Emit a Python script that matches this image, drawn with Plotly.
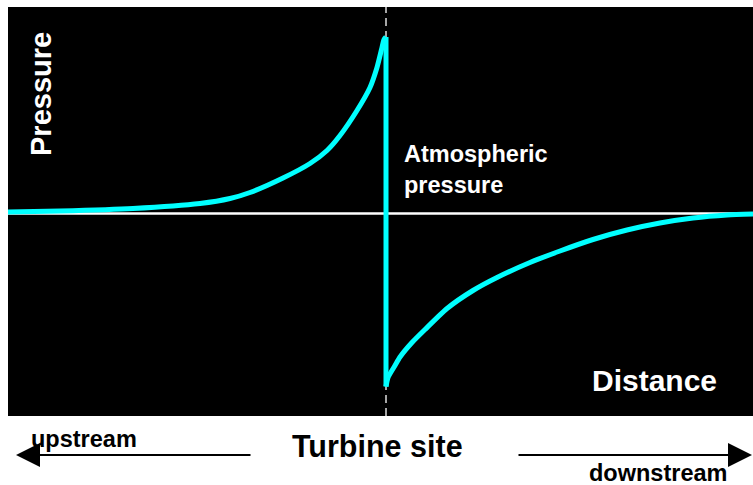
import plotly.graph_objects as go

# Distance (turbine site at 0) and pressure relative to atmospheric (arbitrary units)
upstream_x = [-3.78, -3.26, -2.53, -1.86, -1.56, -1.36, -1.03, -0.76, -0.59, -0.46, -0.29, -0.16, -0.09, -0.04, -0.02, 0.0]
upstream_p = [0.015, 0.025, 0.05, 0.10, 0.15, 0.21, 0.355, 0.50, 0.63, 0.78, 1.03, 1.26, 1.46, 1.66, 1.74, 1.765]
downstream_x = [0.0, 0.02, 0.09, 0.14, 0.26, 0.39, 0.61, 0.87, 1.11, 1.44, 1.74, 2.07, 2.41, 2.74, 3.07, 3.41, 3.67]
downstream_p = [-1.73, -1.64, -1.52, -1.435, -1.29, -1.16, -0.95, -0.77, -0.64, -0.49, -0.375, -0.26, -0.165, -0.095, -0.045, -0.015, -0.005]

FONT = "Liberation Sans, Arial, sans-serif"
CYAN = "#00FFFF"

fig = go.Figure()
# rising pressure upstream
fig.add_trace(go.Scatter(x=upstream_x, y=upstream_p, mode="lines",
                         line=dict(color=CYAN, width=5, shape="spline", smoothing=0.6),
                         hoverinfo="skip", showlegend=False))
# sudden drop across the turbine
fig.add_trace(go.Scatter(x=[upstream_x[-1], downstream_x[0]], y=[upstream_p[-1], downstream_p[0]],
                         mode="lines", line=dict(color=CYAN, width=5),
                         hoverinfo="skip", showlegend=False))
# recovery downstream
fig.add_trace(go.Scatter(x=downstream_x, y=downstream_p, mode="lines",
                         line=dict(color=CYAN, width=5, shape="spline", smoothing=0.6),
                         hoverinfo="skip", showlegend=False))

fig.update_layout(
    width=753, height=485,
    margin=dict(l=8, r=0, t=7, b=69),
    paper_bgcolor="white", plot_bgcolor="black",
    xaxis=dict(range=[-3.78, 3.67], visible=False, fixedrange=True),
    yaxis=dict(range=[-2.025, 2.065], visible=False, fixedrange=True),
    showlegend=False,
)

# atmospheric pressure line and turbine site marker
fig.add_shape(type="line", xref="paper", yref="y", x0=0, x1=1, y0=0, y1=0,
              line=dict(color="white", width=2.5), layer="below")
fig.add_shape(type="line", xref="x", yref="paper", x0=0, x1=0, y0=0, y1=1,
              line=dict(color="#dddddd", width=1.5, dash="8px,5px"), layer="below")

def px2paper(px, py):
    return (px - 8) / 745.0, (416 - py) / 409.0

def txt(text, px, py, size, color, angle=0, xanchor="center", align="center"):
    x, y = px2paper(px, py)
    fig.add_annotation(x=x, y=y, xref="paper", yref="paper", text=text,
                       showarrow=False, textangle=angle, xanchor=xanchor,
                       yanchor="middle", align=align,
                       font=dict(family=FONT, size=size, color=color))

txt("<b>Pressure</b>", 41, 94, 29, "white", angle=-90)
txt("<b>Atmospheric<br>pressure</b>", 402, 169, 23.5, "white", xanchor="left", align="left")
txt("<b>Distance</b>", 654, 380, 30, "white")
txt("<b>Turbine site</b>", 377, 446, 30.5, "black")
txt("<b>upstream</b>", 84, 439, 23.5, "black")
txt("<b>downstream</b>", 658, 473, 23.5, "black")

# direction arrows
for head, tail in [(16, 252), (752, 517)]:
    x, y = px2paper(head, 455)
    fig.add_annotation(x=x, y=y, xref="paper", yref="paper", text="",
                       showarrow=True, ax=tail - head, ay=0,
                       arrowhead=2, arrowsize=2.4, arrowwidth=2, arrowcolor="black")

fig.write_html("out.html",
               config={"displayModeBar": False},
               post_script="document.body.style.margin='0';"
                           "document.body.style.overflow='hidden';")
